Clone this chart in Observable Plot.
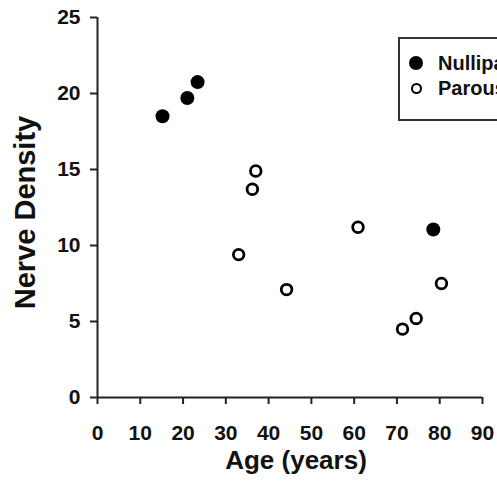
<!DOCTYPE html>
<html>
<head>
<meta charset="utf-8">
<script src="https://cdn.jsdelivr.net/npm/d3@7"></script>
<script src="https://cdn.jsdelivr.net/npm/@observablehq/plot@0.6"></script>
<style>
  body { margin: 0; background: #fff; overflow: hidden; }
  #wrap { position: relative; width: 497px; height: 481px; overflow: hidden;
          font-family: "Liberation Sans", Arial, sans-serif; }
  #legend { position: absolute; left: 398px; top: 37px; width: 150px; height: 84px;
            border: 2px solid #333; box-sizing: border-box; background: #fff; }
  .row { position: absolute; left: 0; height: 24px; white-space: nowrap;
         font-weight: bold; font-size: 20px; color: #111; line-height: 24px; }
  .mk { position: absolute; box-sizing: border-box; border-radius: 50%; }
  .lbl { position: absolute; left: 38px; top: 0; }
</style>
</head>
<body>
<div id="wrap"></div>
<script>
// ---- data ----
const groups = ["Nulliparous", "Parous"];
const nulliparousAge = [15.2, 21.0, 23.4, 78.5];
const nulliparousDensity = [18.5, 19.7, 20.75, 11.05];
const parousAge = [33.0, 36.2, 37.0, 44.2, 60.9, 71.3, 74.5, 80.4];
const parousDensity = [9.4, 13.7, 14.9, 7.1, 11.2, 4.5, 5.2, 7.5];
const xTicks = [0, 10, 20, 30, 40, 50, 60, 70, 80, 90];
const yTicks = [0, 5, 10, 15, 20, 25];
const xLabel = "Age (years)";
const yLabel = "Nerve Density";

const nulli = nulliparousAge.map((a, i) => ({age: a, density: nulliparousDensity[i]}));
const parous = parousAge.map((a, i) => ({age: a, density: parousDensity[i]}));

const font = "Liberation Sans, Arial, sans-serif";
const chart = Plot.plot({
  width: 497,
  height: 481,
  marginLeft: 97,
  marginRight: 15,
  marginTop: 17,
  marginBottom: 84,
  style: {fontFamily: font, color: "#111", background: "#fff", overflow: "visible"},
  x: {domain: [0, 90]},
  y: {domain: [0, 25]},
  marks: [
    Plot.axisX({ticks: xTicks, tickSize: 7, tickPadding: 21, fontSize: 21, fontWeight: "bold",
                strokeWidth: 2, stroke: "#222", label: null, tickFormat: d => d}),
    Plot.axisY({ticks: yTicks, tickSize: 7, tickPadding: 10, fontSize: 21, fontWeight: "bold",
                strokeWidth: 2, stroke: "#222", label: null, tickFormat: d => d}),
    Plot.ruleY([0], {stroke: "#222", strokeWidth: 2}),
    Plot.ruleX([0], {stroke: "#222", strokeWidth: 2}),
    Plot.dot(nulli, {x: "age", y: "density", r: 7, fill: "#000", stroke: "none"}),
    Plot.dot(parous, {x: "age", y: "density", r: 5.3, fill: "#fff", stroke: "#000", strokeWidth: 2.8}),
    Plot.text([yLabel], {frameAnchor: "left", textAnchor: "middle", lineAnchor: "middle",
                rotate: -90, dx: -72, dy: 5, fontSize: 29, fontWeight: "bold", fill: "#111"}),
    Plot.text([xLabel], {frameAnchor: "bottom", textAnchor: "middle", lineAnchor: "middle",
                dx: 6, dy: 63, fontSize: 26, fontWeight: "bold", fill: "#111"})
  ]
});

const wrap = document.getElementById("wrap");
wrap.appendChild(chart);

// legend
const legend = document.createElement("div");
legend.id = "legend";
groups.forEach((g, i) => {
  const row = document.createElement("div");
  row.className = "row";
  row.style.top = (12 + i * 25) + "px";
  const mk = document.createElement("div");
  mk.className = "mk";
  if (i === 0) {
    Object.assign(mk.style, {width: "14px", height: "14px", left: "9px", top: "5px", background: "#000"});
  } else {
    Object.assign(mk.style, {width: "11px", height: "11px", left: "10.5px", top: "6.5px",
                             background: "#fff", border: "2.5px solid #000"});
  }
  const lbl = document.createElement("span");
  lbl.className = "lbl";
  lbl.textContent = g;
  row.appendChild(mk);
  row.appendChild(lbl);
  legend.appendChild(row);
});
wrap.appendChild(legend);
</script>
</body>
</html>
